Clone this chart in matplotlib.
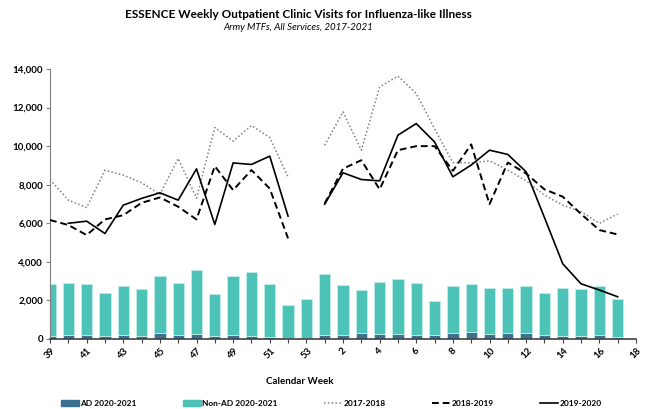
import matplotlib
matplotlib.use('Agg')
import matplotlib.pyplot as plt
import numpy as np
from matplotlib.lines import Line2D
from matplotlib.patches import Patch

plt.rcParams['font.family'] = ['Lato', 'DejaVu Sans']

weeks = list(range(39, 54)) + list(range(1, 19))
nan = np.nan

ad_2020_21 = [170, 200, 200, 170, 200, 170, 330, 200, 260, 160, 230, 170, 100, 50, 60,
              220, 220, 300, 260, 260, 220, 200, 300, 370, 270, 300, 300, 200, 170, 160, 200, 100, nan]
non_ad_2020_21 = [2700, 2710, 2670, 2230, 2570, 2440, 2960, 2710, 3320, 2160, 3020, 3280, 2750, 1690, 2020,
                  3150, 2580, 2230, 2690, 2870, 2700, 1750, 2470, 2480, 2370, 2360, 2440, 2160, 2470, 2430, 2540, 1990, nan]
s2017_2018 = [8270, 7200, 6820, 8750, 8500, 8100, 7500, 9360, 7300, 10970, 10260, 11070, 10450, 8410, nan,
              10040, 11780, 9790, 13070, 13630, 12730, 10900, 9150, 9130, 9240, 8760, 8200, 7460, 6940, 6600, 6000, 6480, nan]
s2018_2019 = [6170, 5910, 5390, 6200, 6420, 7060, 7340, 6860, 6200, 8960, 7720, 8760, 7800, 5220, nan,
              7030, 8830, 9270, 7760, 9790, 10000, 10000, 8720, 10090, 6990, 9150, 8580, 7760, 7380, 6480, 5650, 5420, nan]
s2019_2020 = [nan, 6000, 6110, 5470, 6940, 7290, 7580, 7200, 8820, 5940, 9130, 9050, 9480, 6370, nan,
              6990, 8620, 8270, 8200, 10570, 11170, 10220, 8410, 9020, 9790, 9570, 8670, 6300, 3900, 2860, 2540, 2190, nan]

c_ad = '#3d7090'
c_non = '#4dc3b8'

fig = plt.figure(figsize=(6.45, 4.09), dpi=100)
ax = fig.add_axes([50/645, 1-339/409, 586/645, 270/409])

x = np.arange(len(weeks))
ad = np.array(ad_2020_21, dtype=float)
non = np.array(non_ad_2020_21, dtype=float)
bw = 0.62
ax.bar(x, ad, width=bw, color=c_ad, edgecolor='#bfe6e3', linewidth=0.6, zorder=2)
ax.bar(x, non, bottom=ad, width=bw, color=c_non, edgecolor='#bfeee9', linewidth=0.6, zorder=2)

ax.plot(x, s2017_2018, color='#808080', lw=1.1, linestyle=(0, (1, 1.5)), zorder=3)
ax.plot(x, s2018_2019, color='black', lw=1.4, linestyle=(0, (3.5, 2)), zorder=3)
ax.plot(x, s2019_2020, color='black', lw=1.2, linestyle='-', zorder=3)

ax.set_xlim(0, len(weeks) - 1)
ax.set_ylim(0, 14000)
ax.set_yticks(np.arange(0, 14001, 2000))
ax.set_yticklabels([f'{v:,}' for v in range(0, 14001, 2000)], fontsize=7, fontweight='bold')
ax.set_xticks(x)
ax.set_xticklabels([str(w) if i % 2 == 0 else '' for i, w in enumerate(weeks)],
                   fontsize=7, fontweight='bold', rotation=45, ha='center')
ax.tick_params(axis='x', length=3, width=0.8, color='#404040', pad=2)
ax.tick_params(axis='y', length=3, width=0.8, color='#808080', pad=2)
for s in ['top', 'right']:
    ax.spines[s].set_visible(False)
ax.spines['left'].set_color('#808080')
ax.spines['bottom'].set_color('#404040')
ax.spines['bottom'].set_linewidth(1.2)

fig.text(298/645, 1-14/409, 'ESSENCE Weekly Outpatient Clinic Visits for Influenza-like Illness',
         ha='center', va='center', fontsize=8.5, fontweight='bold')
fig.text(298/645, 1-28/409, 'Army MTFs, All Services, 2017-2021',
         ha='center', va='center', fontsize=7, style='italic')
fig.text(300/645, 1-381/409, 'Calendar Week', ha='center', va='center', fontsize=7, fontweight='bold')

handles = [Patch(color=c_ad), Patch(color=c_non),
           Line2D([], [], color='#808080', lw=1.1, linestyle=(0, (1, 1.5))),
           Line2D([], [], color='black', lw=1.4, linestyle=(0, (3.5, 2))),
           Line2D([], [], color='black', lw=1.2)]
labels = ['AD 2020-2021', 'Non-AD 2020-2021', '2017-2018', '2018-2019', '2019-2020']
leg = fig.legend(handles, labels, loc='center', bbox_to_anchor=(331/645, 1-403/409), ncol=5,
                 frameon=False, fontsize=6, handlelength=2.2, handleheight=0.7,
                 columnspacing=5.6, handletextpad=0.1)
for t in leg.get_texts():
    t.set_fontweight('bold')

fig.savefig('out.png', dpi=100)
